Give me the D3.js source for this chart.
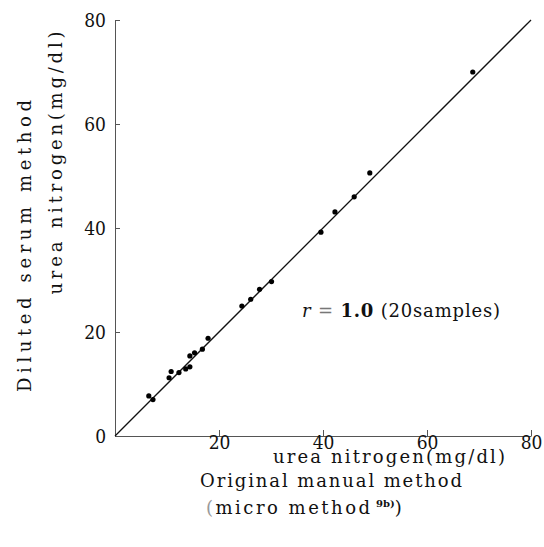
<!DOCTYPE html>
<html>
<head>
<meta charset="utf-8">
<script src="https://cdn.jsdelivr.net/npm/d3@7"></script>
<style>
  body { margin: 0; background: #fff; }
  svg text { font-family: "DejaVu Serif", "Liberation Serif", serif; fill: #111; }
</style>
</head>
<body>
<svg width="544" height="547"></svg>
<script>
// original manual method (x) vs diluted serum method (y), mg/dl
const originalVals = [6.5, 7.3, 10.4, 10.8, 12.3, 13.6, 14.4, 14.4, 15.3, 16.8,
                      17.9, 24.4, 26.1, 27.8, 30.1, 39.6, 42.3, 46.0, 49.0, 68.8];
const dilutedVals  = [7.7, 7.0, 11.2, 12.4, 12.2, 12.9, 13.3, 15.4, 16.0, 16.7,
                      18.8, 25.0, 26.3, 28.2, 29.7, 39.2, 43.1, 46.0, 50.6, 70.0];
const xTicks = [20, 40, 60, 80];
const yTicks = [0, 20, 40, 60, 80];
const fitLine = [[0, 0], [80, 80]];

const serif = "'DejaVu Serif', 'Liberation Serif', serif";
const tickFont = "'DejaVu Serif Condensed', 'DejaVu Serif', serif";
const svg = d3.select("svg");

const x = d3.scaleLinear().domain([0, 80]).range([115, 531]);
const y = d3.scaleLinear().domain([0, 80]).range([436, 20]);

// axes - ticks point inward like the original
const gx = svg.append("g")
    .attr("transform", "translate(0," + y(0) + ")")
    .call(d3.axisBottom(x).tickValues(xTicks).tickSizeInner(-6).tickSizeOuter(0).tickPadding(-1));

const gy = svg.append("g")
    .attr("transform", "translate(" + x(0) + ",0)")
    .call(d3.axisLeft(y).tickValues(yTicks).tickSizeInner(-5).tickSizeOuter(0).tickPadding(9));

[gx, gy].forEach(g => {
    g.attr("font-family", tickFont);
    g.select(".domain").attr("stroke", "#555").attr("stroke-width", 1);
    g.selectAll(".tick line").attr("stroke", "#555");
    g.selectAll(".tick text")
        .style("font-family", tickFont)
        .style("font-stretch", "condensed")
        .attr("font-size", "19px")
        .attr("fill", "#111");
});
gx.selectAll(".tick text").attr("dy", "0.72em");
gy.selectAll(".tick text").attr("dy", "0.36em");

// regression line y = x
svg.append("path")
    .datum(fitLine)
    .attr("d", d3.line().x(d => x(d[0])).y(d => y(d[1])))
    .attr("stroke", "#111")
    .attr("stroke-width", 1.3)
    .attr("fill", "none");

svg.selectAll(".pt")
    .data(originalVals.map((v, i) => [v, dilutedVals[i]]))
    .enter()
    .append("circle")
    .attr("class", "pt")
    .attr("cx", d => x(d[0]))
    .attr("cy", d => y(d[1]))
    .attr("r", 2.6)
    .attr("fill", "#000");

// text helper: width forced with textLength so the spacing matches the scan
function label(xp, yp, txt, len, rot) {
    const t = svg.append("text")
        .style("font-family", serif)
        .attr("font-size", "18px")
        .attr("textLength", len)
        .attr("lengthAdjust", "spacing");
    if (rot) {
        t.attr("transform", "translate(" + xp + "," + yp + ") rotate(-90)")
            .attr("text-anchor", "middle");
    } else {
        t.attr("x", xp).attr("y", yp);
    }
    if (txt) t.text(txt);
    return t;
}

// annotation
const ann = label(302, 317, null, 198);
ann.append("tspan").attr("font-style", "italic").text("r");
ann.append("tspan").attr("fill", "#777").text(" = ");
ann.append("tspan").attr("font-weight", "bold").text("1.0");
ann.append("tspan").text(" (20samples)");

// y axis titles
label(31, 246, "Diluted serum method", 292, true);
label(62, 163, "urea nitrogen(mg/dl)", 263, true);

// x axis titles
label(273, 463, "urea nitrogen(mg/dl)", 232);
label(200, 487, "Original manual method", 262);

const micro = svg.append("text")
    .style("font-family", serif)
    .attr("x", 206)
    .attr("y", 514)
    .attr("font-size", "18px")
    .attr("letter-spacing", "2.5px");
micro.append("tspan").attr("fill", "#999").text("(");
micro.append("tspan").text("micro method");
micro.append("tspan")
    .attr("font-size", "10px")
    .attr("font-weight", "bold")
    .attr("dy", "-7")
    .attr("letter-spacing", "0px")
    .text(" 9b)");
micro.append("tspan").attr("dy", "7").text(")");
</script>
</body>
</html>
